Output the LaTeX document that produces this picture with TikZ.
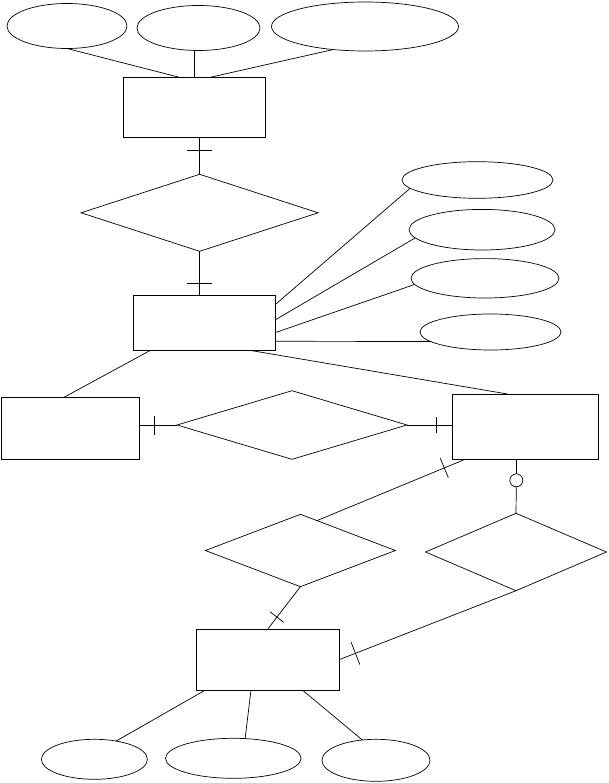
\documentclass[tikz,border=0pt]{standalone}
\usetikzlibrary{shapes.geometric,decorations.markings}

\begin{document}
\begin{tikzpicture}[x=1pt,y=-1pt,line width=0.7pt,
    entity/.style={draw,rectangle,line width=1pt,inner sep=0pt,outer sep=0pt},
    attr/.style={draw,ellipse,inner sep=0pt,outer sep=0pt},
    rel/.style={draw,diamond,inner sep=0pt,outer sep=0pt},
    onebar/.style 2 args={postaction={decorate,decoration={markings,
        mark=at position #1 with {\draw[line width=0.7pt] (0,-#2) -- (0,#2);}}}}]
  \useasboundingbox (0,0) rectangle (608,783);
  % attributes on top
  \node[attr,minimum width=120pt,minimum height=45pt] (e1) at (67,26) {};
  \node[attr,minimum width=123pt,minimum height=45pt] (e2) at (198.5,28) {};
  \node[attr,minimum width=187pt,minimum height=49pt] (e3) at (365,26.5) {};
  \node[entity,minimum width=142pt,minimum height=59.7pt] (r1) at (194,107.2) {};
  \node[rel,minimum width=237pt,minimum height=77pt] (d1) at (199.6,212.8) {};
  \node[entity,minimum width=142pt,minimum height=55.3pt] (r2) at (204,322.7) {};
  % attributes on the right
  \node[attr,minimum width=151pt,minimum height=36.6pt] (e4) at (477.5,180) {};
  \node[attr,minimum width=146pt,minimum height=40.6pt] (e5) at (482,229.7) {};
  \node[attr,minimum width=148pt,minimum height=39.4pt] (e6) at (485,278.3) {};
  \node[attr,minimum width=141pt,minimum height=36pt] (e7) at (490.5,332) {};
  % middle row
  \node[entity,minimum width=138pt,minimum height=62pt] (r3) at (70.5,428.3) {};
  \node[rel,minimum width=230pt,minimum height=68.6pt] (d2) at (292,425) {};
  \node[entity,minimum width=146.5pt,minimum height=65.3pt] (r4) at (525.5,426.7) {};
  \node[draw,circle,minimum size=13pt,inner sep=0pt,outer sep=0pt] (opt) at (516.3,480.3) {};
  \node[rel,minimum width=190pt,minimum height=72.4pt] (d3) at (300.4,550.5) {};
  \node[rel,minimum width=181pt,minimum height=77.4pt] (d4) at (516,552) {};
  % bottom
  \node[entity,minimum width=143.5pt,minimum height=61pt] (r5) at (267.8,659.5) {};
  \node[attr,minimum width=106pt,minimum height=40pt] (e8) at (94.4,759.3) {};
  \node[attr,minimum width=135.6pt,minimum height=40pt] (e9) at (233.3,758.3) {};
  \node[attr,minimum width=108pt,minimum height=42pt] (e10) at (376,760.3) {};

  \draw (e1.south) -- ([xshift=-14.5pt]r1.north);
  \draw (r1.north |- e2.south) -- (r1.north);
  \draw (e3.216) -- ([xshift=16pt]r1.north);
  \draw[onebar={0.36}{12.5pt}] (r1.south -| d1.north) -- (d1.north);
  \draw[onebar={0.74}{12.5pt}] (d1.south) -- (d1.south |- r2.north);
  \draw ([yshift=-9.7pt]r2.north east) -- (e4.187);
  \draw ([yshift=2.7pt]r2.east) -- (e5.187);
  \draw ([yshift=-10pt]r2.east) -- (e6.185);
  \draw ([yshift=-18.6pt]r2.east) -- (e7.189);
  \draw ([xshift=17.4pt]r2.south west) -- ([xshift=-6.5pt]r3.north);
  \draw ([xshift=46pt]r2.south) -- ([xshift=-17.7pt]r4.north);
  \draw[onebar={0.39}{9.5pt}] (r3.east |- d2.west) -- (d2.west);
  \draw[onebar={0.64}{8pt}] (d2.east) -- (d2.east -| r4.west);
  \draw[onebar={0.14}{10.5pt}] ([xshift=-60.5pt]r4.south) -- (d3.61);
  \draw (opt.north |- r4.south) -- (opt.north);
  \draw (opt.south) -- (d4.north);
  \draw[onebar={0.72}{8.5pt}] (d3.south) -- (r5.north);
  \draw[onebar={0.91}{12pt}] (d4.south) -- (r5.east);
  \draw ([xshift=9.4pt]r5.south west) -- (e8.40);
  \draw ([xshift=-16.8pt]r5.south) -- (e9.59);
  \draw ([xshift=34.5pt]r5.south) -- (e10.124);
\end{tikzpicture}
\end{document}
